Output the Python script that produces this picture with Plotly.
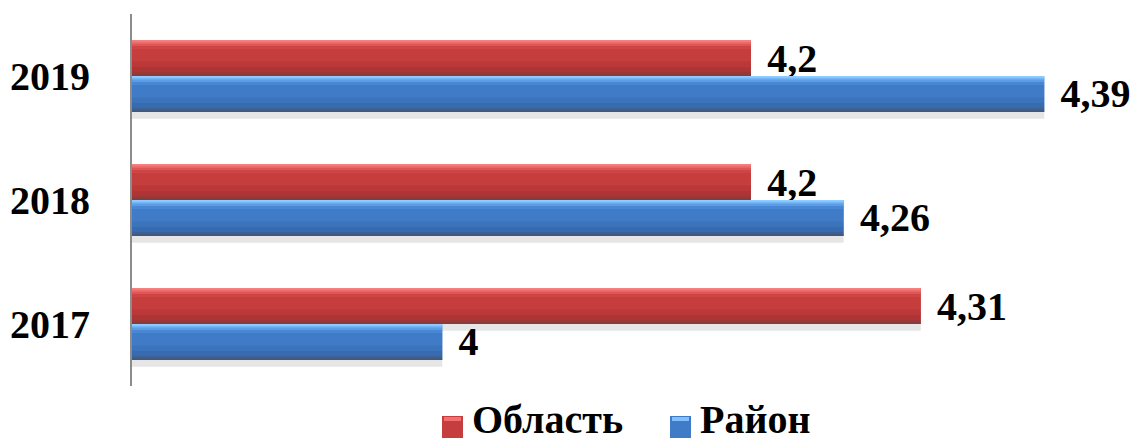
import plotly.graph_objects as go

# ---- data ----
years = ["2017", "2018", "2019"]
oblast = [4.31, 4.2, 4.2]
rayon = [4.0, 4.26, 4.39]
series_names = ["Область", "Район"]

def fmt(v):
    return "<b>\u200a " + ("%g" % v).replace(".", ",") + "</b>"

FONT = "Liberation Serif"
BW = 0.29  # bar thickness in category units

# gradient stripes: (from top fraction, to fraction, color)
red_stripes = [(0.00, 0.05, "#F58080"), (0.05, 0.10, "#EC6C6C"), (0.10, 0.17, "#DE5656"),
               (0.17, 0.26, "#CF4545"), (0.26, 0.60, "#C53D3D"), (0.60, 0.75, "#BA3838"),
               (0.75, 0.88, "#AD3535"), (0.88, 0.95, "#9F3535"), (0.95, 1.00, "#873B3B")]
blue_stripes = [(0.00, 0.05, "#8FCCFF"), (0.05, 0.10, "#76B6F6"), (0.10, 0.17, "#5C9DE6"),
                (0.17, 0.26, "#4887D3"), (0.26, 0.60, "#3F7BC6"), (0.60, 0.75, "#3B74BB"),
                (0.75, 0.88, "#386BAD"), (0.88, 0.95, "#37629B"), (0.95, 1.00, "#42597C")]

fig = go.Figure()

def add_bar(values, top_offset, stripes, base_color, name):
    fig.add_trace(go.Bar(
        y=years, x=values, orientation="h", name=name,
        offset=top_offset - BW, width=BW,
        marker=dict(color=base_color, line=dict(width=0)),
        text=[fmt(v) for v in values], textposition="outside",
        textfont=dict(family=FONT, size=40, color="black"),
        constraintext="none", cliponaxis=False, showlegend=False,
    ))
    for a, b, c in stripes:
        fig.add_trace(go.Bar(
            y=years, x=values, orientation="h",
            offset=top_offset - BW * b, width=BW * (b - a),
            marker=dict(color=c, line=dict(width=0)),
            showlegend=False, hoverinfo="skip",
        ))

# shadows
for vals, top in [(oblast, BW), (rayon, 0.0)]:
    fig.add_trace(go.Bar(
        y=years, x=vals, orientation="h",
        offset=top - BW - 0.055, width=0.055,
        marker=dict(color="#E6E6E6", line=dict(width=0)),
        showlegend=False, hoverinfo="skip",
    ))

add_bar(oblast, BW, red_stripes, "#C53D3D", series_names[0])
add_bar(rayon, 0.0, blue_stripes, "#3F7BC6", series_names[1])

# legend drawn as squares + text below the plot
def px_x(p):
    return (p - 132) / 1001.0

def px_y(p):
    return (386 - p) / 372.0

legend_items = [(442, 472, "#C53D3D", "#F07070", series_names[0]),
                (670, 700, "#3F7BC6", "#80C0FF", series_names[1])]
for sx, tx, col, hi, label in legend_items:
    fig.add_shape(type="rect", xref="paper", yref="paper",
                  x0=px_x(sx), x1=px_x(sx + 21), y0=px_y(438), y1=px_y(416),
                  fillcolor=col, line=dict(width=0))
    fig.add_shape(type="rect", xref="paper", yref="paper",
                  x0=px_x(sx + 2), x1=px_x(sx + 19), y0=px_y(421), y1=px_y(417),
                  fillcolor=hi, line=dict(width=0))
    fig.add_annotation(xref="paper", yref="paper", x=px_x(tx - 2), y=px_y(420),
                       xanchor="left", yanchor="middle", showarrow=False,
                       text="<b>" + label + "</b>",
                       font=dict(family=FONT, size=40, color="black"))

fig.update_layout(
    width=1137, height=446,
    margin=dict(l=132, r=4, t=14, b=60, autoexpand=False),
    barmode="overlay",
    plot_bgcolor="white", paper_bgcolor="white",
    font=dict(family=FONT, color="black"),
    showlegend=False,
)
fig.update_xaxes(range=[3.799, 4.4475], visible=False, showgrid=False, automargin=False)
fig.update_yaxes(showline=True, linecolor="#8c8c8c", linewidth=2, showgrid=False,
                 ticks="", ticklabelstandoff=32, automargin=False,
                 range=[-0.5, 2.5],
                 tickfont=dict(family=FONT, size=40, color="black"),
                 tickprefix="<b>", ticksuffix="</b>")

fig.write_html("out.html", config={"displayModeBar": False},
               post_script="document.body.style.margin='0';document.body.style.overflow='hidden';")
